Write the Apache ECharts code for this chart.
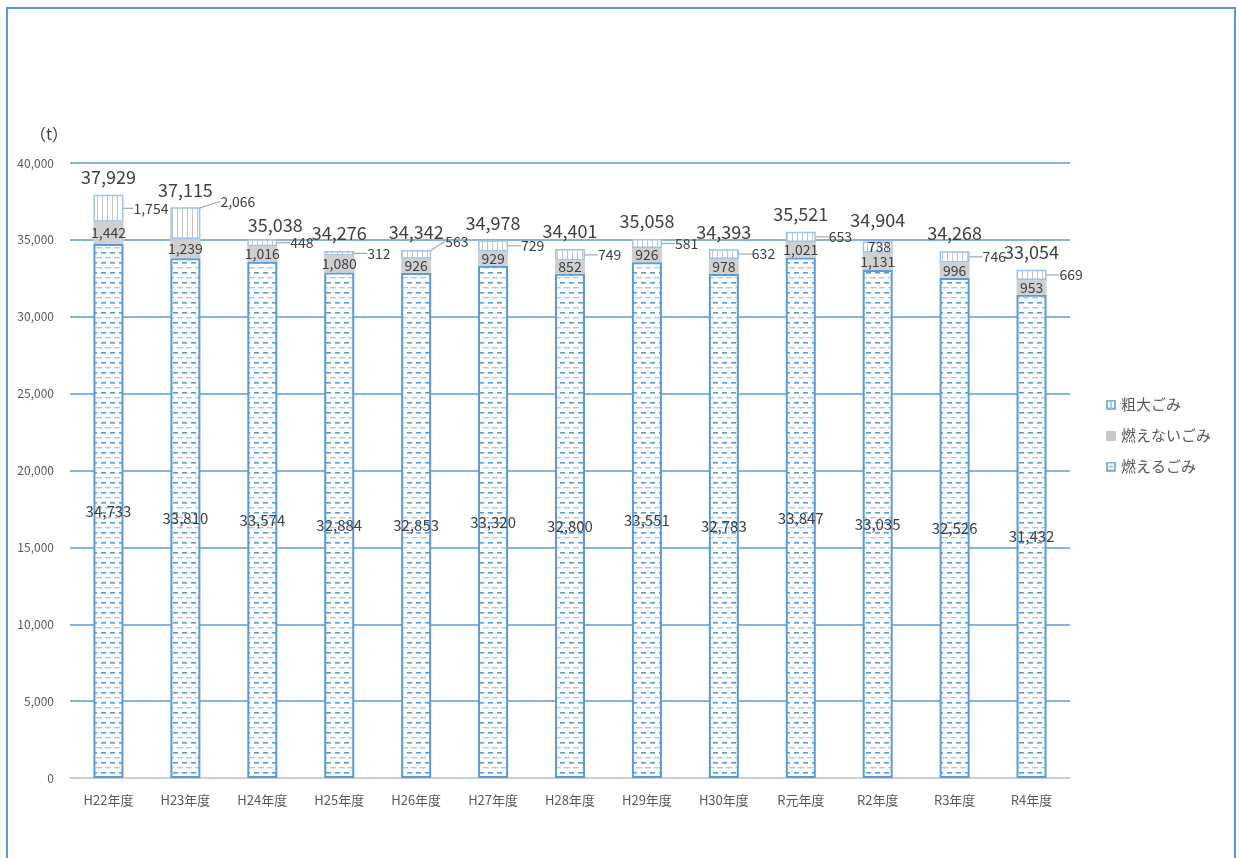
<!DOCTYPE html>
<html><head><meta charset="utf-8">
<script src="https://cdn.jsdelivr.net/npm/echarts@6/dist/echarts.min.js"></script>
<style>html,body{margin:0;padding:0;background:#fff;}#c{width:1239px;height:858px;}</style>
</head><body><div id="c"></div>
<script>
var categories = ['H22年度','H23年度','H24年度','H25年度','H26年度','H27年度','H28年度','H29年度','H30年度','R元年度','R2年度','R3年度','R4年度'];
var moeru = [34733, 33810, 33574, 32884, 32853, 33320, 32800, 33551, 32783, 33847, 33035, 32526, 31432];
var moenai = [1442, 1239, 1016, 1080, 926, 929, 852, 926, 978, 1021, 1131, 996, 953];
var sodai = [1754, 2066, 448, 312, 563, 729, 749, 581, 632, 653, 738, 746, 669];
var totals = [37929, 37115, 35038, 34276, 34342, 34978, 34401, 35058, 34393, 35521, 34904, 34268, 33054];
var seriesNames = ['燃えるごみ', '燃えないごみ', '粗大ごみ'];

var FONT = '"Noto Sans CJK JP", "Noto Sans", sans-serif';
var BLUE = '#5B9BD5';

function makeDashPattern() {
  var c = document.createElement('canvas');
  c.width = 9; c.height = 10;
  var g = c.getContext('2d');
  g.fillStyle = '#ffffff'; g.fillRect(0, 0, 9, 10);
  g.fillStyle = '#5B9BD5';
  g.fillRect(2, 2, 5, 1.6);
  g.fillStyle = '#A9CBEA';
  g.fillRect(0, 7, 3, 1.4);
  g.fillRect(6, 7, 3, 1.4);
  return c;
}
function makeVertPattern() {
  var c = document.createElement('canvas');
  c.width = 5; c.height = 10;
  var g = c.getContext('2d');
  g.fillStyle = '#ffffff'; g.fillRect(0, 0, 5, 10);
  g.fillStyle = '#c4c4c4';
  g.fillRect(2, 0, 1, 10);
  return c;
}
function makeIcon(kind) {
  var c = document.createElement('canvas');
  c.width = 10; c.height = 10;
  var g = c.getContext('2d');
  if (kind === 'gray') { g.fillStyle = '#c9c9c9'; g.fillRect(0,0,10,10); }
  else {
    g.fillStyle = '#fff'; g.fillRect(0,0,10,10);
    g.strokeStyle = BLUE; g.lineWidth = 1.5; g.strokeRect(1,1,8,8);
    g.fillStyle = BLUE;
    if (kind === 'dash') g.fillRect(3,4.5,4,1.2); else g.fillRect(4.5,2,1,6);
  }
  return c.toDataURL();
}
function fmt(p) { return Number(p.value).toLocaleString('en-US'); }

var chart = echarts.init(document.getElementById('c'));
var labelText = {color: '#404040', fontFamily: FONT};

chart.setOption({
  animation: false,
  backgroundColor: '#fff',
  graphic: [
    {type: 'rect', shape: {x: 7, y: 8, width: 1228, height: 900}, style: {fill: 'none', stroke: BLUE, lineWidth: 2}, silent: true},
    {type: 'text', left: 30, top: 126, style: {text: '（t）', fill: '#404040', font: '16px ' + FONT}}
  ],
  grid: {left: 70, right: 169, top: 163, bottom: 80},
  legend: {
    orient: 'vertical', left: 1106, top: 397, padding: 0, itemGap: 16, itemWidth: 10, itemHeight: 10,
    textStyle: {color: '#595959', fontSize: 15, fontFamily: FONT},
    data: [
      {name: seriesNames[2], icon: 'image://' + makeIcon('vert')},
      {name: seriesNames[1], icon: 'image://' + makeIcon('gray')},
      {name: seriesNames[0], icon: 'image://' + makeIcon('dash')}
    ]
  },
  xAxis: {
    type: 'category', data: categories,
    axisLine: {lineStyle: {color: '#d9d9d9', width: 1.5}},
    axisTick: {show: false},
    axisLabel: {color: '#595959', fontSize: 13, fontFamily: FONT, margin: 16}
  },
  yAxis: {
    type: 'value', min: 0, max: 40000, interval: 5000,
    axisLine: {show: false}, axisTick: {show: false},
    splitLine: {lineStyle: {color: BLUE, width: 1.5}},
    axisLabel: {color: '#595959', fontSize: 12, fontFamily: FONT, margin: 16,
      formatter: function (v) { return v.toLocaleString('en-US'); }}
  },
  series: [
    {
      name: seriesNames[0], type: 'bar', stack: 'total', barWidth: 30, data: moeru,
      itemStyle: {color: {image: makeDashPattern(), repeat: 'repeat'}, borderColor: BLUE, borderWidth: 2},
      label: Object.assign({show: true, position: 'inside', fontSize: 15, formatter: fmt}, labelText)
    },
    {
      name: seriesNames[1], type: 'bar', stack: 'total', barWidth: 30, data: moenai,
      itemStyle: {color: '#d0d0d0'},
      label: Object.assign({show: true, position: 'inside', fontSize: 14, formatter: fmt}, labelText)
    },
    {
      name: seriesNames[2], type: 'bar', stack: 'total', barWidth: 30, data: sodai,
      itemStyle: {color: {image: makeVertPattern(), repeat: 'repeat'}, borderColor: '#9DC3E6', borderWidth: 1.5},
      label: Object.assign({show: true, position: 'right', distance: 2, fontSize: 14, formatter: fmt}, labelText),
      labelLayout: function (p) {
        if (p.dataIndex === 1) return {dx: 18, dy: -22};
        if (p.dataIndex === 4) return {dx: 12, dy: -13};
        if (p.dataIndex === 10) return {dx: -27, dy: 0};
        if (p.dataIndex === 0) return {dx: 8};
        return {dx: 11};
      },
      labelLine: {show: true, lineStyle: {color: '#a6a6a6', width: 1.2}}
    },
    {
      name: '合計', type: 'line', data: totals, symbol: 'circle', symbolSize: 1,
      itemStyle: {opacity: 0}, lineStyle: {opacity: 0}, silent: true,
      label: Object.assign({show: true, position: 'top', distance: 8, fontSize: 18, formatter: fmt, opacity: 1}, labelText),
      labelLayout: function (p) {
        if (p.dataIndex === 2) return {dx: 13, dy: 3};
        if (p.dataIndex === 10) return {dy: -4};
        return {};
      },
      z: 10
    }
  ]
});
</script></body></html>
